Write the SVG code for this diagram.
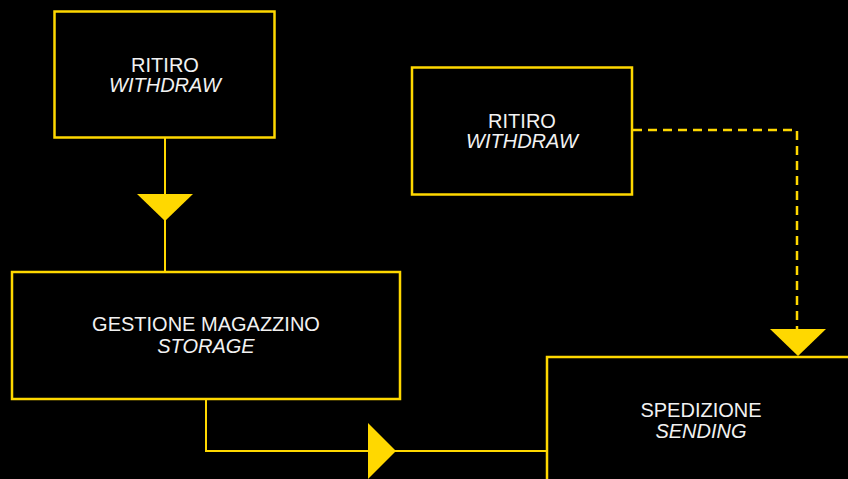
<svg xmlns="http://www.w3.org/2000/svg" width="848" height="479" viewBox="0 0 848 479">
<style>
.box{fill:#000;stroke:#FFD800;stroke-width:2.5}
.ln{fill:none;stroke:#FFD800;stroke-width:2}
.dash{fill:none;stroke:#FFD800;stroke-width:2.5;stroke-dasharray:9 6}
.tri{fill:#FFD800}
text{font-family:"Liberation Sans",Arial,Helvetica,sans-serif;font-size:20px;fill:#F2F2F2;text-anchor:middle}
.it{font-style:italic}
</style>
<rect width="848" height="479" fill="#000"/>
<g id="connectors">
<path class="ln" d="M165 138 V271"/>
<polygon class="tri" points="137,194 193,194 165,221"/>
<path class="ln" d="M206 399 V451 H547"/>
<polygon class="tri" points="368,423 368,479 396,451"/>
<path class="dash" d="M633 130 H797 V330"/>
<polygon class="tri" points="770,329 826,329 798,356"/>
</g>
<g id="ritiro1">
<rect class="box" x="54.5" y="11.5" width="220" height="126"/>
<text x="165" y="72">RITIRO</text>
<text class="it" x="165" y="92">WITHDRAW</text>
</g>
<g id="ritiro2">
<rect class="box" x="412" y="67.5" width="220" height="127"/>
<text x="522" y="128">RITIRO</text>
<text class="it" x="522" y="148">WITHDRAW</text>
</g>
<g id="magazzino">
<rect class="box" x="12" y="272" width="388" height="127"/>
<text x="206" y="331">GESTIONE MAGAZZINO</text>
<text class="it" x="206" y="353">STORAGE</text>
</g>
<g id="spedizione">
<rect class="box" x="547" y="357" width="310" height="140"/>
<text x="701" y="417">SPEDIZIONE</text>
<text class="it" x="701" y="438">SENDING</text>
</g>
</svg>
